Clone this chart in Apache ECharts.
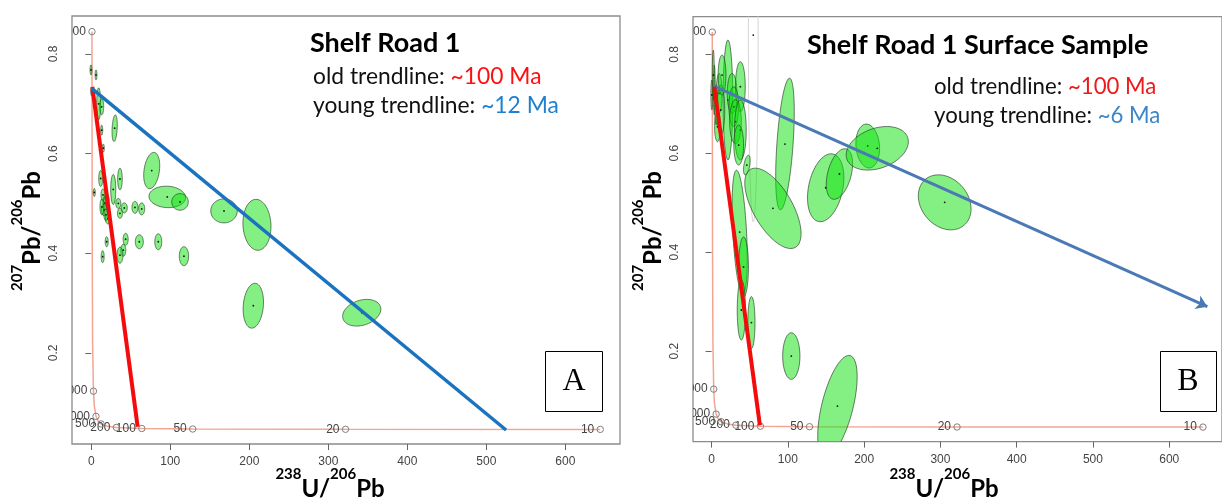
<!DOCTYPE html>
<html><head><meta charset="utf-8">
<script src="https://cdn.jsdelivr.net/npm/echarts@6/dist/echarts.min.js"></script>
<style>html,body{margin:0;padding:0;background:#fff}#c{width:1222px;height:502px}</style>
</head><body><div id="c"></div>
<script>
// ---------- data ----------
const xTickValues = [0, 100, 200, 300, 400, 500, 600];
const yTickValues = [0.2, 0.4, 0.6, 0.8];

// concordia age markers (Ma) and their 238U/206Pb, 207Pb/206Pb positions
const concordiaAges = ['10', '20', '50', '100', '200', '500', '1000', '2000', '5000'];
const concordiaAgeX = [644.2, 321.8, 128.4, 63.97, 31.74, 12.40, 5.96, 2.75, 0.853];
const concordiaAgeY = [0.04624, 0.04643, 0.04701, 0.04802, 0.05011, 0.05720, 0.07250, 0.1230, 0.8450];
// concordia curve points
const concordiaCurveX = [644.2, 321.8, 128.4, 63.97, 31.74, 20.99, 12.40, 8.72, 5.96, 3.82, 2.75, 1.69, 1.16, 0.853];
const concordiaCurveY = [0.04624, 0.04643, 0.04701, 0.04802, 0.05011, 0.05233, 0.05720, 0.06275, 0.07250, 0.0936, 0.1230, 0.2226, 0.4250, 0.8450];

// error ellipses: [238U/206Pb, 207Pb/206Pb, half-width (x units), half-height (y units), tilt deg]
const ellipsesA = [
  [76.5, 0.566, 9.7, 0.0367, 8], [96.2, 0.513, 23.2, 0.0215, 3], [112.3, 0.503, 10.5, 0.0167, 0],
  [168.0, 0.485, 16.8, 0.0241, 0], [209.7, 0.457, 17.7, 0.0512, -3], [29.6, 0.651, 3.2, 0.0267, 3],
  [205.1, 0.2946, 12.7, 0.0452, 5], [342.3, 0.2805, 24.9, 0.0251, -18], [117.3, 0.394, 5.9, 0.0191, 0],
  [36.3, 0.549, 2.9, 0.0217, 0], [27.8, 0.528, 3.2, 0.0301, 0], [11.9, 0.550, 2.5, 0.016, 0],
  [3.8, 0.522, 1.3, 0.008, 0], [14.8, 0.517, 2.5, 0.012, 0], [17.3, 0.501, 2.5, 0.014, 0],
  [16.1, 0.487, 3.2, 0.012, 0], [18.6, 0.477, 2.5, 0.012, 0], [21.1, 0.469, 3.2, 0.010, 0],
  [13.5, 0.493, 2.5, 0.016, 0], [19.9, 0.507, 2.5, 0.012, 0], [34.2, 0.500, 3.2, 0.010, 0],
  [36.3, 0.480, 3.2, 0.010, 0], [41.8, 0.491, 3.8, 0.010, 0], [55.3, 0.492, 3.8, 0.012, 0],
  [63.8, 0.489, 3.8, 0.012, 0], [84.8, 0.423, 4.4, 0.016, 0], [60.8, 0.423, 5.1, 0.014, 0],
  [43.5, 0.428, 3.2, 0.012, 0], [40.5, 0.406, 3.2, 0.012, 0], [36.3, 0.396, 3.8, 0.016, 0],
  [19.5, 0.423, 1.9, 0.010, 0], [14.4, 0.393, 1.9, 0.012, 0], [-0.4, 0.768, 1.2, 0.010, 0],
  [6.0, 0.758, 1.2, 0.010, 0], [0.5, 0.724, 1.2, 0.008, 0], [9.4, 0.700, 2.5, 0.032, 0],
  [13.2, 0.694, 2.5, 0.016, 0], [13.2, 0.647, 1.3, 0.010, 0], [15.2, 0.611, 1.3, 0.008, 0]
];
const ellipsesB = [
  [21.4, 0.7077, 6.4, 0.1213, 0], [96.2, 0.6186, 10.6, 0.1335, 4], [80.4, 0.4886, 25.6, 0.091, -30],
  [149.6, 0.5302, 22.4, 0.0698, 12], [167.6, 0.558, 15.4, 0.0526, 15], [204.7, 0.6146, 15.4, 0.0445, -5],
  [217.2, 0.610, 42.3, 0.0404, -20], [305.6, 0.5007, 30.8, 0.0607, -40], [36.8, 0.4405, 9.0, 0.1254, -3],
  [41.9, 0.370, 6.4, 0.0607, 0], [39.0, 0.283, 5.4, 0.0607, 0], [52.2, 0.2576, 4.7, 0.0526, 0],
  [104.5, 0.1899, 11.3, 0.0471, 0], [165.0, 0.0888, 20.5, 0.1052, 14], [46.2, 0.576, 3.8, 0.0202, 10],
  [26.9, 0.721, 6.4, 0.0404, 0], [37.7, 0.7345, 6.4, 0.0506, 0], [29.1, 0.694, 6.4, 0.0404, 0],
  [31.3, 0.6637, 7.7, 0.0445, 0], [37.7, 0.6469, 7.7, 0.0607, 0], [35.5, 0.6166, 6.4, 0.0404, 0],
  [9.9, 0.721, 3.8, 0.0404, 0], [12.1, 0.6874, 5.1, 0.0506, 0], [7.7, 0.6536, 3.8, 0.0303, 0],
  [13.7, 0.758, 5.1, 0.0404, 0], [3.5, 0.728, 1.3, 0.0506, 0], [2.2, 0.758, 1.3, 0.0506, 0],
  [6.0, 0.698, 1.9, 0.0404, 0], [0.3, 0.718, 1.3, 0.030, 0]
];
const faintEllipseB = [[54.6, 0.839, 6.4, 0.378, 0]];

// trendlines (x values, y values)
const oldTrendAX = [1.3, 58.7], oldTrendAY = [0.734, 0.0516];
const youngTrendAX = [0.5, 525], youngTrendAY = [0.731, 0.045];
const oldTrendBX = [3.5, 63.3], oldTrendBY = [0.7345, 0.050];
const youngTrendBX = [2.2, 650], youngTrendBY = [0.736, 0.2896];

// ---------- helpers ----------
const zip = (a, b) => a.map((v, i) => [v, b[i]]);
const TICKFONT = '"Liberation Sans Narrow", "Liberation Sans", Arial, sans-serif';
const TXT = 'Lato, "Open Sans", sans-serif';

function ellipseRender(fill, stroke, lw, dot) {
  return function (params, api) {
    const c = api.coord([api.value(0), api.value(1)]);
    const s = api.size([api.value(2), api.value(3)]);
    const rx = Math.abs(s[0]), ry = Math.abs(s[1]);
    const a = api.value(4) * Math.PI / 180;
    const pts = [];
    for (let i = 0; i < 72; i++) {
      const t = i / 72 * Math.PI * 2;
      const ex = rx * Math.cos(t), ey = ry * Math.sin(t);
      pts.push([c[0] + ex * Math.cos(a) - ey * Math.sin(a), c[1] + ex * Math.sin(a) + ey * Math.cos(a)]);
    }
    const children = [{ type: 'polygon', shape: { points: pts }, style: { fill: fill, stroke: stroke, lineWidth: lw } }];
    if (dot) children.push({ type: 'circle', shape: { cx: c[0], cy: c[1], r: 0.9 }, style: { fill: '#111' } });
    return { type: 'group', children: children };
  };
}

function concordiaMarkers(params, api) {
  const c = api.coord([api.value(0), api.value(1)]);
  return {
    type: 'group', children: [
      { type: 'circle', shape: { cx: c[0], cy: c[1], r: 3.2 }, style: { fill: 'none', stroke: '#808080', lineWidth: 1 } },
      { type: 'text', x: c[0] - 6, y: c[1], style: { text: concordiaAges[params.dataIndex], align: 'right', verticalAlign: 'middle', fill: '#444', font: '12px ' + TICKFONT } }
    ]
  };
}

function axesFor(idx) {
  return {
    x: {
      type: 'value', gridIndex: idx, min: -24.4, max: 669.2,
      axisLine: { show: false }, splitLine: { show: false },
      axisTick: { show: true, customValues: xTickValues, length: 6, lineStyle: { color: '#666' } },
      axisLabel: { customValues: xTickValues, margin: 12, color: '#444', fontFamily: TICKFONT, fontSize: 12 }
    },
    y: {
      type: 'value', gridIndex: idx, min: 0.0169, max: 0.8763,
      axisLine: { show: false }, splitLine: { show: false },
      axisTick: { show: true, customValues: yTickValues, length: 6, lineStyle: { color: '#666' } },
      axisLabel: { customValues: yTickValues, rotate: 90, margin: 12, color: '#444', fontFamily: TICKFONT, fontSize: 12,
        formatter: v => v.toFixed(1) }
    }
  };
}
const axA = axesFor(0), axB = axesFor(1);

function panelSeries(idx, ellipses, oldX, oldY, youngX, youngY, youngColor, arrow) {
  const base = { xAxisIndex: idx, yAxisIndex: idx, silent: true, animation: false };
  const list = [
    Object.assign({ type: 'line', data: zip(concordiaCurveX, concordiaCurveY), showSymbol: false, symbol: 'none',
      lineStyle: { color: '#f3a593', width: 1.5 }, z: 1 }, base),
    Object.assign({ type: 'custom', data: zip(concordiaAgeX, concordiaAgeY), renderItem: concordiaMarkers, clip: true, z: 2 }, base),
    Object.assign({ type: 'custom', data: ellipses, renderItem: ellipseRender('rgba(10,225,10,0.5)', 'rgba(35,55,35,0.8)', 0.8, true), clip: true, z: 3 }, base),
    Object.assign({ type: 'line', data: zip(oldX, oldY), showSymbol: false, symbol: 'none', lineStyle: { color: '#f40c0c', width: 4 }, z: 5 }, base)
  ];
  if (arrow) {
    list.push(Object.assign({ type: 'lines', coordinateSystem: 'cartesian2d', data: [{ coords: zip(youngX, youngY) }],
      symbol: ['none', 'arrow'], symbolSize: 11, lineStyle: { color: youngColor, width: 3, opacity: 1 }, z: 5 }, base));
  } else {
    list.push(Object.assign({ type: 'line', data: zip(youngX, youngY), showSymbol: false, symbol: 'none', lineStyle: { color: youngColor, width: 3.5 }, z: 5 }, base));
  }
  return list;
}

const seriesA = panelSeries(0, ellipsesA, oldTrendAX, oldTrendAY, youngTrendAX, youngTrendAY, '#1b73c0', false);
const seriesB = panelSeries(1, ellipsesB, oldTrendBX, oldTrendBY, youngTrendBX, youngTrendBY, '#4a79b6', true);
seriesB.splice(2, 0, { type: 'custom', xAxisIndex: 1, yAxisIndex: 1, silent: true, animation: false, data: faintEllipseB,
  renderItem: ellipseRender('none', '#d4d4d4', 1, true), clip: true, z: 2 });

function richTitle(x, y, rot) {
  return {
    type: 'text', x: x, y: y, rotation: rot,
    style: {
      text: '', align: 'center', verticalAlign: 'middle', font: 'bold 24px ' + TXT, fill: '#000',
      rich: {
        b: { fontFamily: TXT, fontWeight: 'bold', fontSize: 24, lineHeight: 34, verticalAlign: 'bottom', fill: '#000' },
        s: { fontFamily: TXT, fontWeight: 'bold', fontSize: 15, lineHeight: 15, verticalAlign: 'top', fill: '#000' }
      }
    }
  };
}
const yTitleA = richTitle(27, 231, Math.PI / 2); yTitleA.style.text = '{s|207}{b|Pb/}{s|206}{b|Pb}';
const yTitleB = richTitle(648, 231, Math.PI / 2); yTitleB.style.text = '{s|207}{b|Pb/}{s|206}{b|Pb}';
const xTitleA = richTitle(330, 484, 0); xTitleA.style.text = '{s|238}{b|U/}{s|206}{b|Pb}';
const xTitleB = richTitle(944, 484, 0); xTitleB.style.text = '{s|238}{b|U/}{s|206}{b|Pb}';

function noteText(x, y, label, value, color, size) {
  return { type: 'text', x: x, y: y, style: { text: '{k|' + label + '}{v|' + value + '}', align: 'left', verticalAlign: 'middle',
    rich: { k: { fontFamily: TXT, fontSize: size, fill: '#111' }, v: { fontFamily: TXT, fontSize: size, fill: color } } } };
}

const graphics = [
  { type: 'text', x: 310, y: 43, style: { text: 'Shelf Road 1', font: 'bold 27px ' + TXT, fill: '#000', align: 'left', verticalAlign: 'middle' } },
  noteText(313, 77, 'old trendline: ', '~100 Ma', '#ff1010', 22.8),
  noteText(313, 106, 'young trendline: ', '~12 Ma', '#1f7fcf', 22.8),
  { type: 'text', x: 807, y: 45, style: { text: 'Shelf Road 1 Surface Sample', font: 'bold 27px ' + TXT, fill: '#000', align: 'left', verticalAlign: 'middle' } },
  noteText(934, 87, 'old trendline: ', '~100 Ma', '#f01818', 22.2),
  noteText(934, 116, 'young trendline: ', '~6 Ma', '#3a86c8', 22.2),
  { type: 'rect', shape: { x: 545.5, y: 351.5, width: 57, height: 60 }, style: { fill: '#fff', stroke: '#000', lineWidth: 1 }, z: 10 },
  { type: 'text', x: 574, y: 382, style: { text: 'A', font: '32px "Liberation Serif", "DejaVu Serif", serif', fill: '#000', align: 'center', verticalAlign: 'middle' }, z: 11 },
  { type: 'rect', shape: { x: 1160.5, y: 351.5, width: 56, height: 60 }, style: { fill: '#fff', stroke: '#000', lineWidth: 1 }, z: 10 },
  { type: 'text', x: 1188, y: 382, style: { text: 'B', font: '32px "Liberation Serif", "DejaVu Serif", serif', fill: '#000', align: 'center', verticalAlign: 'middle' }, z: 11 },
  yTitleA, yTitleB, xTitleA, xTitleB
];

const chart = echarts.init(document.getElementById('c'), null, { renderer: 'canvas' });
chart.setOption({
  backgroundColor: '#fff',
  animation: false,
  grid: [
    { left: 72, top: 16, width: 548, height: 428, show: true, borderColor: '#8c8c8c', borderWidth: 1.3, backgroundColor: 'transparent' },
    { left: 693, top: 16.6, width: 541, height: 425, show: true, borderColor: '#8c8c8c', borderWidth: 1.3, backgroundColor: 'transparent' }
  ],
  xAxis: [axA.x, axB.x],
  yAxis: [axA.y, axB.y],
  series: seriesA.concat(seriesB),
  graphic: graphics
});
</script></body></html>
